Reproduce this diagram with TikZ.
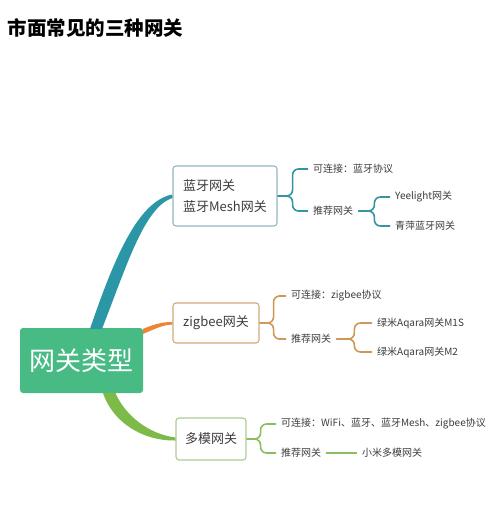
\documentclass[tikz,border=0pt]{standalone}
\usepackage{fontspec}
\setmainfont{Noto Sans CJK SC}
\usetikzlibrary{calc}
\definecolor{rootgreen}{RGB}{72,187,132}
\definecolor{bteal}{RGB}{42,150,166}
\definecolor{borange}{RGB}{236,132,52}
\definecolor{bgreen}{RGB}{125,186,72}
\definecolor{tealline}{RGB}{52,148,160}
\definecolor{tanline}{RGB}{206,152,90}
\definecolor{greenline}{RGB}{138,190,95}
\definecolor{tealbox}{RGB}{146,184,192}
\definecolor{tanbox}{RGB}{214,170,120}
\definecolor{greenbox}{RGB}{172,203,146}
\definecolor{txt}{RGB}{60,60,60}

\begin{document}
\begin{tikzpicture}[x=1pt,y=-1pt,
		typebox/.style={draw,rounded corners=3pt,line width=1.1pt,fill=white,text=txt,
			font=\fontsize{13}{21}\selectfont,align=left,inner sep=0pt},
		leaf/.style={anchor=west,inner xsep=5pt,inner ysep=1pt,text=txt,font=\fontsize{10}{12}\selectfont},
		brace/.style={line width=1.6pt,rounded corners=6pt}]
	\fill[white] (0,0) rectangle (500,532);
	\useasboundingbox (0,0) rectangle (500,532);

	\node[anchor=west,inner sep=0pt,text=black,font=\fontsize{19.5}{19.5}\selectfont\bfseries] (title) at (7.5,28) {市面常见的三种网关};

	\node[fill=rootgreen,rounded corners=3pt,minimum width=123pt,minimum height=65pt,inner sep=0pt,
		text=white,font=\fontsize{26}{26}\selectfont] (root) at (81.5,360.5) {网关类型};

	\node[typebox,draw=tealbox,minimum width=104pt,minimum height=60pt] (b1) at (225,196) {蓝牙网关\\蓝牙Mesh网关};
	\node[typebox,draw=tanbox,minimum width=86pt,minimum height=40pt] (b2) at (216,323) {zigbee网关};
	\node[typebox,draw=greenbox,minimum width=70pt,minimum height=42pt] (b3) at (211,439) {多模网关};

	\node[leaf] (c1) at (308,169) {可连接：蓝牙协议};
	\node[leaf] (r1) at (308,211) {推荐网关};
	\node[leaf] (y1) at (390,197) {Yeelight网关};
	\node[leaf] (q1) at (390,226) {青萍蓝牙网关};

	\node[leaf] (c2) at (286,296) {可连接：zigbee协议};
	\node[leaf] (r2) at (286,339) {推荐网关};
	\node[leaf] (m1) at (372,323) {绿米Aqara网关M1S};
	\node[leaf] (m2) at (372,352) {绿米Aqara网关M2};

	\node[leaf] (c3) at (276,424) {可连接：WiFi、蓝牙、蓝牙Mesh、zigbee协议};
	\node[leaf] (r3) at (276,453) {推荐网关};
	\node[leaf] (x3) at (357,453) {小米多模网关};

	% main branches
	\fill[bteal] ($(root.north)+(8.5,1)$) .. controls (113,262) and (137,201) .. ($(b1.west)+(0,-1.5)$)
		-- ($(b1.west)+(0,2)$) .. controls (144,207) and (126,268) .. ($(root.north)+(20.5,1)$) -- cycle;
	\fill[borange] ($(root.north east)+(0,1)$) .. controls (155,324) and (162,322) .. ($(b2.west)+(0,-1)$)
		-- ($(b2.west)+(0,1.5)$) .. controls (162,325) and (155,329) .. ($(root.north east)+(0,6)$) -- cycle;
	\fill[bgreen] ($(root.south)+(21.5,0)$) .. controls (112,420) and (140,441) .. ($(b3.west)+(0,1.5)$)
		-- ($(b3.west)+(0,-1.5)$) .. controls (148,434) and (125,415) .. ($(root.south)+(34,0)$) -- cycle;

	\draw[brace,tealline] (b1.east) -- ++(15,0) |- (c1.west);
	\draw[brace,tealline] (b1.east) -- ++(15,0) |- (r1.west);
	\draw[brace,tealline] (r1.east) -- ++(16,0) |- (y1.west);
	\draw[brace,tealline] (r1.east) -- ++(16,0) |- (q1.west);

	\draw[brace,tanline] (b2.east) -- ++(14,0) |- (c2.west);
	\draw[brace,tanline] (b2.east) -- ++(14,0) |- (r2.west);
	\draw[brace,tanline] (r2.east) -- ++(18,0) |- (m1.west);
	\draw[brace,tanline] (r2.east) -- ++(18,0) |- (m2.west);

	\draw[brace,greenline] (b3.east) -- ++(14,0) |- (c3.west);
	\draw[brace,greenline] (b3.east) -- ++(14,0) |- (r3.west);
	\draw[brace,greenline] (r3.east) -- (x3.west);
\end{tikzpicture}
\end{document}
